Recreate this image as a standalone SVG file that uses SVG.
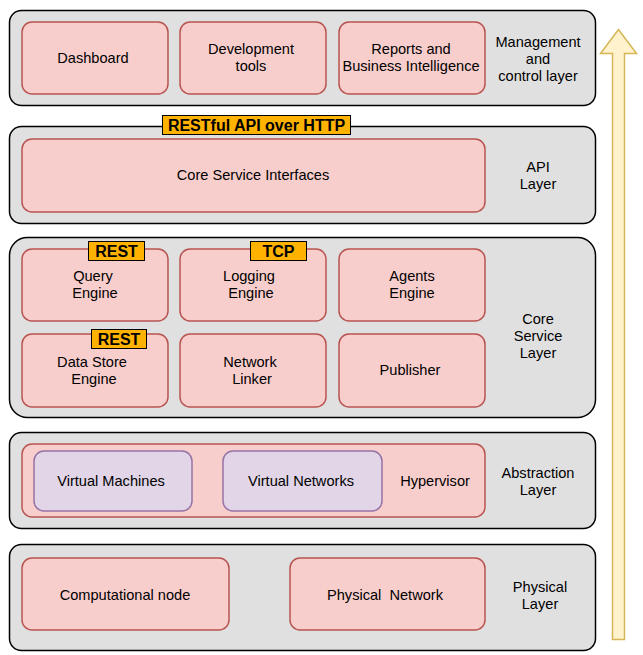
<svg xmlns="http://www.w3.org/2000/svg" width="643" height="655" viewBox="0 0 643 655">
<style>
.layer{fill:#e0e0e0;stroke:#000;stroke-width:1.5}
.box{fill:#f8cecc;stroke:#b85450;stroke-width:1.5}
.vbox{fill:#e1d5e7;stroke:#9673a6;stroke-width:1.5}
.tag{fill:#ffb300;stroke:#000;stroke-width:1}
text{font-family:"Liberation Sans",Arial,sans-serif;font-size:14.6px;fill:#000;text-anchor:middle}
.t{font-weight:bold;font-size:16px}
</style>
<rect width="643" height="655" fill="#fff"/>
<g id="layer-management">
<rect class="layer" x="9.5" y="10.5" width="586" height="95" rx="12"/>
<text x="538" y="47">Management</text><text x="538" y="64">and</text><text x="538" y="81">control layer</text>
</g>
<g id="dashboard"><rect class="box" x="22" y="22" width="146" height="72" rx="10"/><text x="93" y="63">Dashboard</text></g>
<g id="devtools"><rect class="box" x="180" y="22" width="146" height="72" rx="10"/><text x="251" y="54">Development</text><text x="251" y="71">tools</text></g>
<g id="reports"><rect class="box" x="339" y="22" width="146" height="72" rx="10"/><text x="411" y="54">Reports and</text><text x="411" y="71">Business Intelligence</text></g>

<g id="layer-api">
<rect class="layer" x="9.5" y="126.5" width="586" height="97" rx="12"/>
<text x="538" y="172">API</text><text x="538" y="189">Layer</text>
</g>
<g id="csi"><rect class="box" x="22" y="139" width="463" height="73" rx="10"/><text x="253" y="180">Core Service Interfaces</text></g>
<g id="tag-restful"><rect class="tag" x="162.5" y="115.5" width="188" height="19"/><text class="t" x="256.5" y="131">RESTful API over HTTP</text></g>

<g id="layer-core">
<rect class="layer" x="9.5" y="237.5" width="586" height="180" rx="18"/>
<text x="538" y="324">Core</text><text x="538" y="341">Service</text><text x="538" y="358">Layer</text>
</g>
<g id="query"><rect class="box" x="22" y="249" width="146" height="72" rx="10"/><text x="93" y="281">Query</text><text x="95" y="298">Engine</text></g>
<g id="logging"><rect class="box" x="180" y="249" width="146" height="72" rx="10"/><text x="249" y="281">Logging</text><text x="251" y="298">Engine</text></g>
<g id="agents"><rect class="box" x="339" y="249" width="146" height="72" rx="10"/><text x="412" y="281">Agents</text><text x="412" y="298">Engine</text></g>
<g id="datastore"><rect class="box" x="22" y="334" width="146" height="73" rx="10"/><text x="92" y="367">Data Store</text><text x="94" y="384">Engine</text></g>
<g id="netlinker"><rect class="box" x="180" y="334" width="146" height="73" rx="10"/><text x="250" y="367">Network</text><text x="252" y="384">Linker</text></g>
<g id="publisher"><rect class="box" x="339" y="334" width="146" height="73" rx="10"/><text x="410" y="375">Publisher</text></g>
<g id="tag-rest1"><rect class="tag" x="88.5" y="241.5" width="56" height="19"/><text class="t" x="116.5" y="257">REST</text></g>
<g id="tag-tcp"><rect class="tag" x="250.5" y="241.5" width="56" height="19"/><text class="t" x="278.5" y="257">TCP</text></g>
<g id="tag-rest2"><rect class="tag" x="91.5" y="329.5" width="55" height="19"/><text class="t" x="119" y="345">REST</text></g>

<g id="layer-abstraction">
<rect class="layer" x="9.5" y="432.5" width="586" height="96" rx="12"/>
<text x="538" y="478">Abstraction</text><text x="538" y="495">Layer</text>
</g>
<g id="hypervisor"><rect class="box" x="22" y="444" width="463" height="73" rx="10"/><text x="435" y="486">Hypervisor</text></g>
<g id="vm"><rect class="vbox" x="34" y="451" width="158" height="60" rx="10"/><text x="111" y="486">Virtual Machines</text></g>
<g id="vn"><rect class="vbox" x="223" y="451" width="159" height="60" rx="10"/><text x="301" y="486">Virtual Networks</text></g>

<g id="layer-physical">
<rect class="layer" x="9.5" y="544.5" width="586" height="106" rx="12"/>
<text x="540" y="592">Physical</text><text x="540" y="609">Layer</text>
</g>
<g id="compnode"><rect class="box" x="22" y="558" width="207" height="72" rx="10"/><text x="125" y="600">Computational node</text></g>
<g id="physnet"><rect class="box" x="290" y="558" width="195" height="72" rx="10"/><text x="385" y="600" xml:space="preserve">Physical  Network</text></g>

<g id="connectors">
<path d="M612.5,639.5 V53.5 H600.5 L618.5,29.5 L636.5,53.5 H624.5 V639.5 Z" fill="#fff2cc" stroke="#d6b656" stroke-width="1.5"/>
</g>
</svg>
